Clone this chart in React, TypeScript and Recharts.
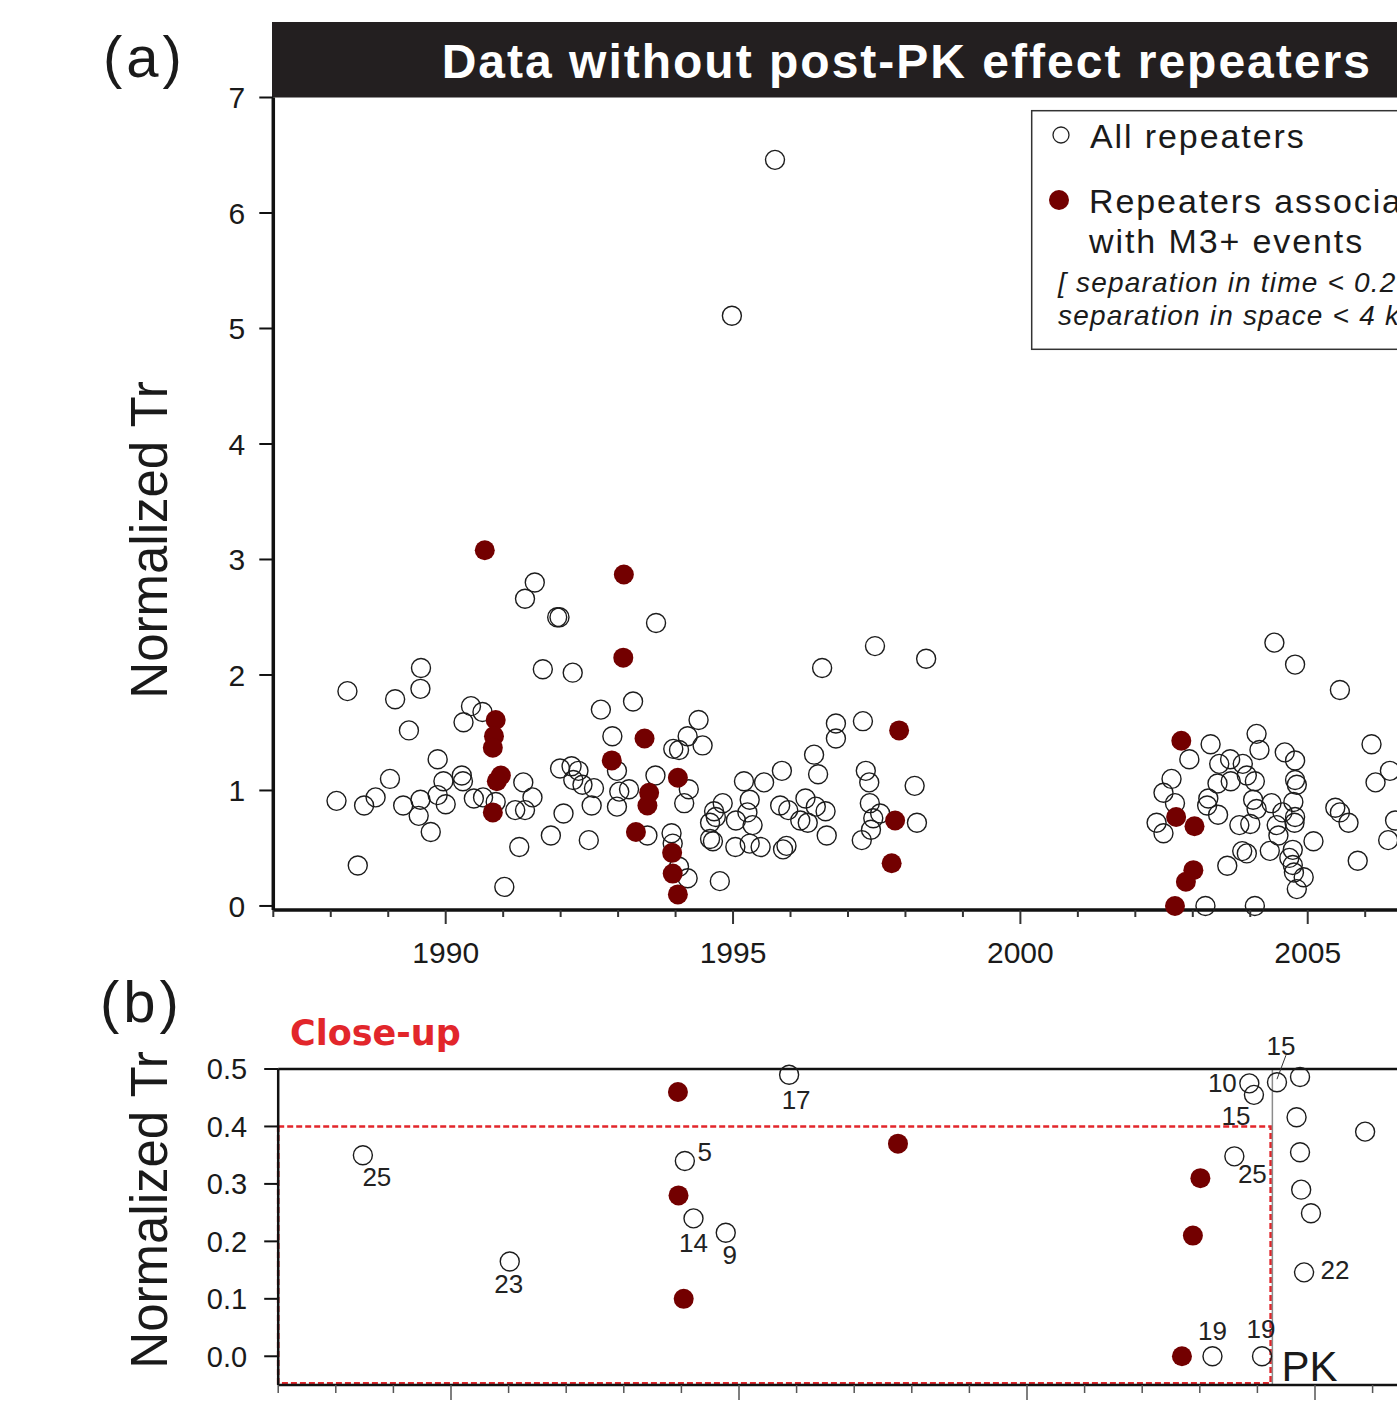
import React from 'react';
import { ScatterChart, Scatter, XAxis, YAxis, ReferenceArea, ReferenceLine } from 'recharts';

const FONT = '"Liberation Sans", Arial, Helvetica, sans-serif';
const INK = '#1a1a1a';
const MAROON = '#730000';
const RED = '#e2262b';

// Normalized recurrence interval (Tr) of all repeaters, by event time
const allYears = [
  1991.55, 1991.38, 1991.94, 1991.98, 1993.66, 1989.57, 1991.69, 1992.21, 1988.29, 1989.12,
  1989.56, 1989.36, 1990.44, 1990.64, 1990.31, 1993.26, 1992.70, 1992.90, 1994.40, 1994.21,
  1994.47, 1993.96, 1994.06, 1989.86, 1992.98, 1993.65, 1989.03, 1989.96, 1990.28, 1990.30,
  1991.35, 1991.99, 1992.19, 1992.31, 1992.22, 1992.38, 1992.58, 1993.02, 1993.19, 1994.23,
  1988.10, 1988.58, 1988.78, 1989.26, 1989.56, 1989.53, 1989.74, 1989.86, 1990.00, 1990.49,
  1990.65, 1990.87, 1991.51, 1991.21, 1991.38, 1992.05, 1992.54, 1992.98, 1993.51, 1994.15,
  1993.93, 1993.95, 1994.06, 1994.21, 1991.83, 1992.49, 1991.28, 1988.47, 1991.02, 1994.77,
  1997.47, 1998.36, 1996.55, 1996.79, 1997.26, 1996.79, 1996.41, 1995.85, 1995.54, 1995.19,
  1996.48, 1997.31, 1997.37, 1998.16, 1994.82, 1995.29, 1994.67, 1994.70, 1994.60, 1995.05,
  1995.25, 1995.34, 1995.82, 1995.96, 1996.26, 1996.44, 1996.61, 1996.17, 1996.30, 1997.38,
  1997.56, 1997.44, 1997.40, 1997.24, 1998.20, 1996.63, 1994.60, 1994.65, 1995.04, 1995.29,
  1995.48, 1995.87, 1995.93, 1995.73, 1994.98,
  2004.42, 2004.78, 2005.56, 2004.11, 2004.16, 2003.31, 2002.94, 2003.46, 2003.65, 2003.87,
  2004.60, 2004.78, 2006.11, 2006.43, 2006.18, 2002.63, 2002.49, 2002.69, 2003.43, 2003.66,
  2003.94, 2004.08, 2004.78, 2004.81, 2003.27, 2003.25, 2003.44, 2004.05, 2004.11, 2004.37,
  2004.56, 2004.75, 2004.78, 2004.77, 2004.46, 2003.81, 2002.37, 2002.49, 2004.00, 2004.49,
  2005.10, 2005.48, 2005.56, 2005.71, 2006.52, 2003.86, 2003.94, 2004.34, 2004.68, 2004.74,
  2004.76, 2004.93, 2004.81, 2003.60, 2005.87, 2006.40, 2003.22, 2004.08, 2004.74,
];
const allTr = [
  2.80, 2.66, 2.50, 2.50, 2.45, 2.06, 2.05, 2.02, 1.86, 1.79,
  1.88, 1.52, 1.73, 1.68, 1.59, 1.77, 1.70, 1.47, 1.61, 1.47,
  1.39, 1.36, 1.35, 1.27, 1.17, 1.13, 1.10, 1.08, 1.13, 1.08,
  1.07, 1.19, 1.21, 1.17, 1.09, 1.05, 1.02, 0.99, 1.01, 1.01,
  0.91, 0.87, 0.94, 0.87, 0.92, 0.78, 0.64, 0.96, 0.88, 0.93,
  0.94, 0.90, 0.94, 0.83, 0.83, 0.80, 0.87, 0.86, 0.61, 0.89,
  0.63, 0.54, 0.34, 0.24, 0.61, 0.57, 0.51, 0.35, 0.165, 0.215,
  2.25, 2.14, 2.06, 1.58, 1.60, 1.45, 1.31, 1.17, 1.07, 1.08,
  1.14, 1.17, 1.07, 1.04, 0.89, 0.92, 0.82, 0.77, 0.72, 0.74,
  0.81, 0.70, 0.87, 0.83, 0.93, 0.86, 0.82, 0.74, 0.72, 0.89,
  0.80, 0.76, 0.66, 0.57, 0.72, 0.61, 0.58, 0.56, 0.51, 0.54,
  0.51, 0.49, 0.52, 6.46, 5.11,
  2.28, 2.09, 1.87, 1.49, 1.35, 1.40, 1.27, 1.23, 1.27, 1.23,
  1.33, 1.26, 1.40, 1.17, 1.07, 1.10, 0.98, 0.89, 1.06, 1.08,
  1.13, 1.08, 1.09, 1.05, 0.93, 0.87, 0.79, 0.92, 0.84, 0.89,
  0.81, 0.90, 0.77, 0.72, 0.70, 0.70, 0.72, 0.63, 0.71, 0.61,
  0.56, 0.85, 0.81, 0.72, 0.74, 0.475, 0.455, 0.477, 0.416, 0.355,
  0.29, 0.249, 0.146, 0.348, 0.391, 0.57, 0, 0, 0.486,
];

// Repeaters associated with M3+ events
const m3Years = [
  1990.68, 1993.10, 1993.09, 1990.87, 1990.84, 1990.82, 1990.96, 1990.89, 1990.82, 1993.46,
  1992.89, 1994.04, 1993.54, 1993.51, 1993.31, 1993.94, 1993.95, 1994.04, 1997.89, 1997.82,
  1997.76, 2002.80, 2002.71, 2003.03, 2003.01, 2002.88, 2002.69,
];
const m3Tr = [
  3.08, 2.87, 2.15, 1.61, 1.47, 1.37, 1.13, 1.08, 0.81, 1.45,
  1.26, 1.11, 0.98, 0.87, 0.64, 0.46, 0.28, 0.10, 1.52, 0.74,
  0.37, 1.43, 0.77, 0.69, 0.31, 0.21, 0,
];

const yearTicks = [
  1987, 1988, 1989, 1990, 1991, 1992, 1993, 1994, 1995, 1996, 1997, 1998,
  1999, 2000, 2001, 2002, 2003, 2004, 2005, 2006, 2007, 2008, 2009,
];
const trTicks = [0, 1, 2, 3, 4, 5, 6, 7];
const closeTicks = [0, 0.1, 0.2, 0.3, 0.4, 0.5];

// close-up tags, keyed by the year of the circle they belong to
const tagYears = [1988.47, 1991.02, 1994.06, 1994.21, 1994.77, 1995.87, 2003.86, 2004.34, 2003.94, 2003.60, 2003.22, 2004.08, 2004.81];
const tagTexts = ['25', '23', '5', '14', '9', '17', '10', '15', '15', '25', '19', '19', '22'];

const PK_YEAR = 2004.26;
const CLOSE_TOP = 0.4;
const CLOSE_END = 2004.23;

// where each tag sits relative to its circle (px)
const TAG_OFFSET: [number, number][] = [
  [14, 22], [-1, 23], [20, -9], [0, 25], [4, 22], [7, 25], [-27, 0],
  [4, -36], [-18, 21], [18, 18], [0, -25], [-1, -27], [31, -2],
];
const LEADER_TAG = 7;

const allData = allYears.map((year, i) => ({ year, tr: allTr[i] }));
const m3Data = m3Years.map((year, i) => ({ year, tr: m3Tr[i] }));
const closeAll = allData.filter((d) => d.tr <= 0.5);
const closeM3 = m3Data.filter((d) => d.tr <= 0.5);

type TickOpts = { dir: 1 | -1; major: number; minor: number; color: string; width: number; label?: boolean };

const yearTick = (o: TickOpts) => (p: any) => {
  const v = p.payload.value;
  const big = v % 5 === 0;
  return (
    <g>
      <line x1={p.x} x2={p.x} y1={p.y} y2={p.y + o.dir * (big ? o.major : o.minor)} stroke={o.color} strokeWidth={o.width} />
      {o.label && big && (
        <text x={p.x} y={p.y + 53} textAnchor="middle" fontSize={30} fill={INK} fontFamily={FONT}>
          {v}
        </text>
      )}
    </g>
  );
};

const openDot = (p: any) => (
  <circle cx={p.cx} cy={p.cy} r={9.5} fill="none" stroke="#1c1c1c" strokeWidth={1.4} />
);
const m3Dot = (p: any) => <circle cx={p.cx} cy={p.cy} r={10} fill={MAROON} />;

const taggedDot = (p: any) => {
  const i = tagYears.indexOf(p.payload.year);
  return (
    <g>
      <circle cx={p.cx} cy={p.cy} r={9.5} fill="none" stroke="#1c1c1c" strokeWidth={1.4} />
      {i >= 0 && (
        <text
          x={p.cx + TAG_OFFSET[i][0]}
          y={p.cy + TAG_OFFSET[i][1]}
          textAnchor="middle"
          dominantBaseline="central"
          fontSize={26}
          fill="#222"
          fontFamily={FONT}
        >
          {tagTexts[i]}
        </text>
      )}
      {i === LEADER_TAG && <line x1={p.cx} y1={p.cy - 3} x2={p.cx + 9} y2={p.cy - 27} stroke="#333" strokeWidth={1} />}
    </g>
  );
};

const pkLabel = (p: any) => {
  const vb = p.viewBox;
  return (
    <text x={vb.x + 9} y={vb.y + vb.height - 4} fontSize={42} fill={INK} fontFamily={FONT}>
      PK
    </text>
  );
};

const FullChart = () => (
  <ScatterChart width={1700} height={980} margin={{ top: 67.5, right: 162.4, bottom: 30, left: 213.3 }}>
    <XAxis
      xAxisId="b"
      type="number"
      dataKey="year"
      domain={[1987, 2009]}
      ticks={yearTicks}
      interval={0}
      height={40}
      axisLine={{ stroke: '#111', strokeWidth: 3.5 }}
      tickLine={false}
      tickSize={0}
      tickMargin={0}
      tick={yearTick({ dir: 1, major: 14, minor: 7, color: '#333', width: 2, label: true })}
    />
    <XAxis
      xAxisId="t"
      orientation="top"
      type="number"
      dataKey="year"
      domain={[1987, 2009]}
      ticks={yearTicks}
      interval={0}
      height={30}
      axisLine={false}
      tickLine={false}
      tickSize={0}
      tickMargin={0}
      tick={yearTick({ dir: -1, major: 13, minor: 6, color: '#8a8a8a', width: 1.5 })}
    />
    <YAxis
      type="number"
      dataKey="tr"
      domain={[-0.035, 7]}
      ticks={trTicks}
      interval={0}
      width={60}
      tickSize={14}
      tickMargin={14}
      axisLine={{ stroke: '#111', strokeWidth: 3.5 }}
      tickLine={{ stroke: '#111', strokeWidth: 2 }}
      tick={{ fontSize: 30, fill: INK, fontFamily: FONT }}
    />
    <Scatter xAxisId="b" data={allData} shape={openDot} isAnimationActive={false} />
    <Scatter xAxisId="b" data={m3Data} shape={m3Dot} isAnimationActive={false} />
  </ScatterChart>
);

const CloseUpChart = () => (
  <ScatterChart width={1700} height={414} margin={{ top: 39, right: 154.6, bottom: 4, left: 208.2 }}>
    <XAxis
      xAxisId="b"
      type="number"
      dataKey="year"
      domain={[1987, 2009]}
      ticks={yearTicks}
      interval={0}
      height={25}
      axisLine={{ stroke: '#111', strokeWidth: 2.5 }}
      tickLine={false}
      tickSize={0}
      tickMargin={0}
      tick={yearTick({ dir: 1, major: 15, minor: 8, color: '#555', width: 1.5 })}
    />
    <XAxis
      xAxisId="t"
      orientation="top"
      type="number"
      dataKey="year"
      domain={[1987, 2009]}
      ticks={yearTicks}
      interval={0}
      height={30}
      axisLine={{ stroke: '#111', strokeWidth: 2.5 }}
      tickLine={false}
      tickSize={0}
      tickMargin={0}
      tick={yearTick({ dir: -1, major: 15, minor: 7, color: '#555', width: 1.5 })}
    />
    <YAxis
      type="number"
      dataKey="tr"
      domain={[-0.05, 0.5]}
      ticks={closeTicks}
      interval={0}
      width={70}
      tickSize={14}
      tickMargin={17}
      tickFormatter={(v: number) => v.toFixed(1)}
      axisLine={{ stroke: '#111', strokeWidth: 2.5 }}
      tickLine={{ stroke: '#111', strokeWidth: 2 }}
      tick={{ fontSize: 29, fill: INK, fontFamily: FONT }}
    />
    <ReferenceLine xAxisId="b" x={PK_YEAR} stroke="#8c8c8c" strokeWidth={1.5} label={pkLabel} />
    <ReferenceArea
      xAxisId="b"
      x1={1987}
      x2={CLOSE_END}
      y1={-0.047}
      y2={CLOSE_TOP}
      fill="none"
      stroke={RED}
      strokeWidth={2.6}
      strokeDasharray="6 3"
    />
    <Scatter xAxisId="b" data={closeAll} shape={taggedDot} isAnimationActive={false} />
    <Scatter xAxisId="b" data={closeM3} shape={m3Dot} isAnimationActive={false} />
  </ScatterChart>
);

export default function App() {
  return (
    <div style={{ position: 'absolute', left: 0, top: 0, width: 1397, height: 1414, overflow: 'hidden', background: '#fff' }}>
      {/* panel headings and axis titles, behind the plots */}
      <svg width={1700} height={1414} style={{ position: 'absolute', left: 0, top: 0 }}>
        <rect x={272} y={22} width={1300} height={75.5} fill="#231f20" />
        <text x={441.7} y={78.3} fontSize={48} fontWeight="bold" fill="#fff" letterSpacing={2} fontFamily={FONT}>
          Data without post-PK effect repeaters
        </text>
        <text x={103} y={77} fontSize={58} letterSpacing={4} fill={INK} fontFamily={FONT}>(a)</text>
        <text x={100} y={1022} fontSize={58} letterSpacing={4} fill={INK} fontFamily={FONT}>(b)</text>
        <text transform="translate(167,540) rotate(-90)" textAnchor="middle" fontSize={51} fill={INK} fontFamily={FONT}>
          Normalized Tr
        </text>
        <text transform="translate(167,1210) rotate(-90)" textAnchor="middle" fontSize={51} fill={INK} fontFamily={FONT}>
          Normalized Tr
        </text>
        <text x={290} y={1045} fontSize={35} fontWeight="bold" fill={RED} fontFamily='"DejaVu Sans", Verdana, sans-serif'>
          Close-up
        </text>
      </svg>
      <div style={{ position: 'absolute', left: 0, top: 0 }}>
        <FullChart />
      </div>
      <div style={{ position: 'absolute', left: 0, top: 1000 }}>
        <CloseUpChart />
      </div>
      {/* legend */}
      <svg width={1397} height={400} style={{ position: 'absolute', left: 0, top: 0 }}>
        <rect x={1031.7} y={110.7} width={600} height={238.6} fill="#fff" stroke="#333" strokeWidth={1.5} />
        <circle cx={1061} cy={135} r={8} fill="none" stroke="#222" strokeWidth={1.3} />
        <text x={1090} y={148.3} fontSize={34} letterSpacing={1.9} fill={INK} fontFamily={FONT}>All repeaters</text>
        <circle cx={1059} cy={200} r={10} fill={MAROON} />
        <text x={1089} y={213} fontSize={34} letterSpacing={1.9} fill={INK} fontFamily={FONT}>Repeaters associated</text>
        <text x={1089} y={253} fontSize={34} letterSpacing={1.9} fill={INK} fontFamily={FONT}>with M3+ events</text>
        <text x={1058} y={292} fontSize={28} fontStyle="italic" letterSpacing={1.2} fill={INK} fontFamily={FONT}>
          [ separation in time &lt; 0.2 yr ;
        </text>
        <text x={1058} y={325} fontSize={28} fontStyle="italic" letterSpacing={1.2} fill={INK} fontFamily={FONT}>
          separation in space &lt; 4 km ]
        </text>
      </svg>
    </div>
  );
}
